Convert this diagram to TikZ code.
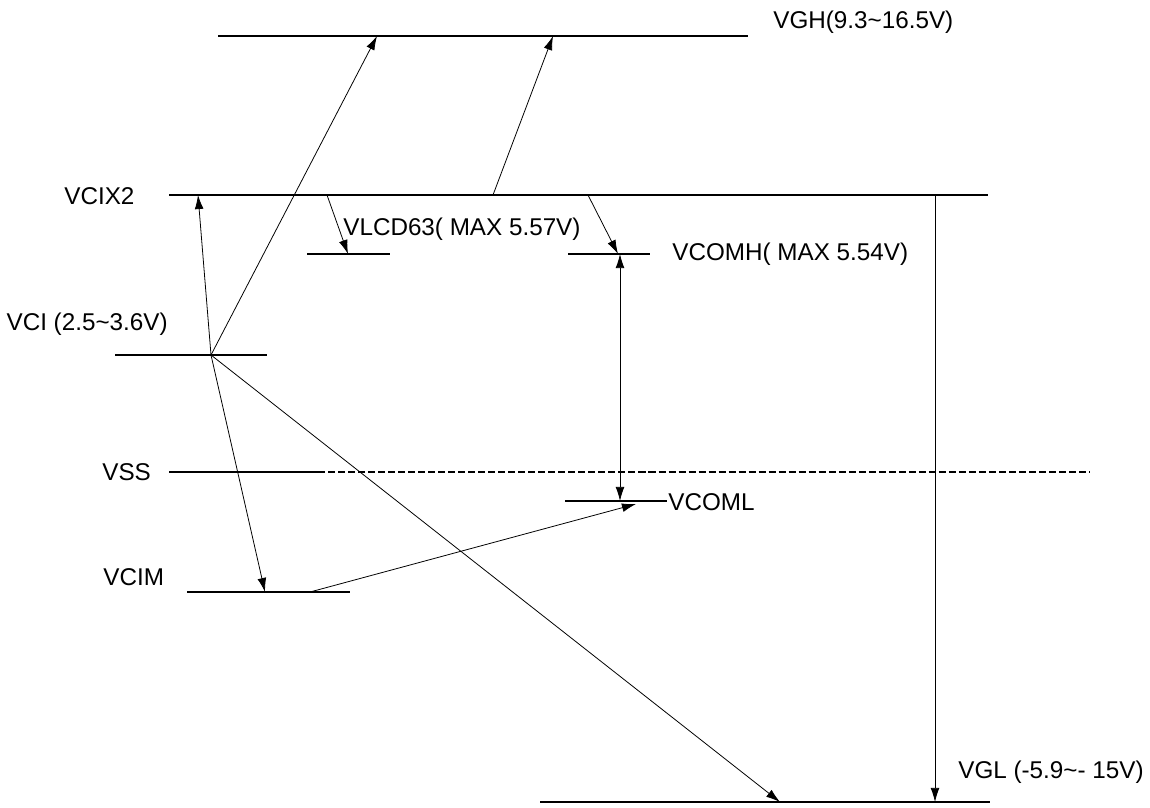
\documentclass[tikz,border=0pt]{standalone}
\usepackage{fontspec}
\setmainfont{Liberation Sans}
\usetikzlibrary{arrows.meta}
\tikzset{
    level/.style={line width=0.65pt},
    lbl/.style={font=\fontsize{13.8}{16}\selectfont, inner sep=0pt},
    conn/.style={line width=0.45pt, -{Latex[length=8pt,width=5pt]}},
}
\begin{document}
\begin{tikzpicture}[x=0.02cm,y=-0.02cm]
    \useasboundingbox (0,0) rectangle (1150,808);
    % voltage levels
    \coordinate (vghL) at (218,36);   \coordinate (vghR) at (748,36);
    \coordinate (x2L) at (169,195);   \coordinate (x2R) at (988,195);
    \coordinate (lcdL) at (307,254);  \coordinate (lcdR) at (390,254);
    \coordinate (comhL) at (568,254); \coordinate (comhR) at (650,254);
    \coordinate (vciL) at (115,355);  \coordinate (vciR) at (267,355);
    \coordinate (vssL) at (169,472);  \coordinate (vssM) at (318,472);
    \coordinate (vssR) at (1090,472);
    \coordinate (comlL) at (565,501); \coordinate (comlR) at (667,501);
    \coordinate (vcimL) at (187,592); \coordinate (vcimR) at (350,592);
    \coordinate (vglL) at (540,802);  \coordinate (vglR) at (990,802);
    \draw[level] (vghL) -- (vghR);
    \draw[level] (x2L) -- (x2R);
    \draw[level] (lcdL) -- (lcdR);
    \draw[level] (comhL) -- (comhR);
    \draw[level] (vciL) -- (vciR);
    \draw[level] (vssL) -- (vssM);
    \draw[level,dash pattern=on 4pt off 1.7pt] (vssM) -- (vssR);
    \draw[level] (comlL) -- (comlR);
    \draw[level] (vcimL) -- (vcimR);
    \draw[level] (vglL) -- (vglR);
    % labels
    \node[lbl,anchor=west] (tvgh) at (773,22) {VGH(9.3\textasciitilde16.5V)};
    \node[lbl,anchor=west] (tx2) at (64,196) {VCIX2};
    \node[lbl,anchor=west] (tlcd) at (343,229) {VLCD63( MAX 5.57V)};
    \node[lbl,anchor=west] (tcomh) at (672,254) {VCOMH( MAX 5.54V)};
    \node[lbl,anchor=east] (tvci) at (168,324) {VCI (2.5\textasciitilde3.6V)};
    \node[lbl,anchor=west] (tvss) at (102,472) {VSS};
    \node[lbl,anchor=west] (tcoml) at (668,502) {VCOML};
    \node[lbl,anchor=west] (tvcim) at (103,577) {VCIM};
    \node[lbl,anchor=west] (tvgl) at (958,772) {VGL (-5.9\textasciitilde- 15V)};
    % arrows
    \coordinate (src) at (211,355);
    \coordinate (a1) at (377,36);  \coordinate (a2) at (198,195);
    \coordinate (a3) at (265,592); \coordinate (a4) at (780,802);
    \coordinate (b0) at (493,195); \coordinate (b1) at (553,36);
    \coordinate (c0) at (327,195); \coordinate (c1) at (348,254);
    \coordinate (d0) at (588,195); \coordinate (d1) at (618,254);
    \coordinate (e0) at (620,254); \coordinate (e1) at (620,501);
    \coordinate (f0) at (310,592); \coordinate (f1) at (636,504);
    \coordinate (g0) at (935,195); \coordinate (g1) at (935,802);
    \draw[conn] (src) -- (a1);
    \draw[conn] (src) -- (a2);
    \draw[conn] (src) -- (a3);
    \draw[conn] (src) -- (a4);
    \draw[conn] (b0) -- (b1);
    \draw[conn] (c0) -- (c1);
    \draw[conn] (d0) -- (d1);
    \draw[conn,{Latex[length=8pt,width=5pt]}-{Latex[length=8pt,width=5pt]}] (e0) -- (e1);
    \draw[conn] (f0) -- (f1);
    \draw[conn] (g0) -- (g1);
\end{tikzpicture}
\end{document}
